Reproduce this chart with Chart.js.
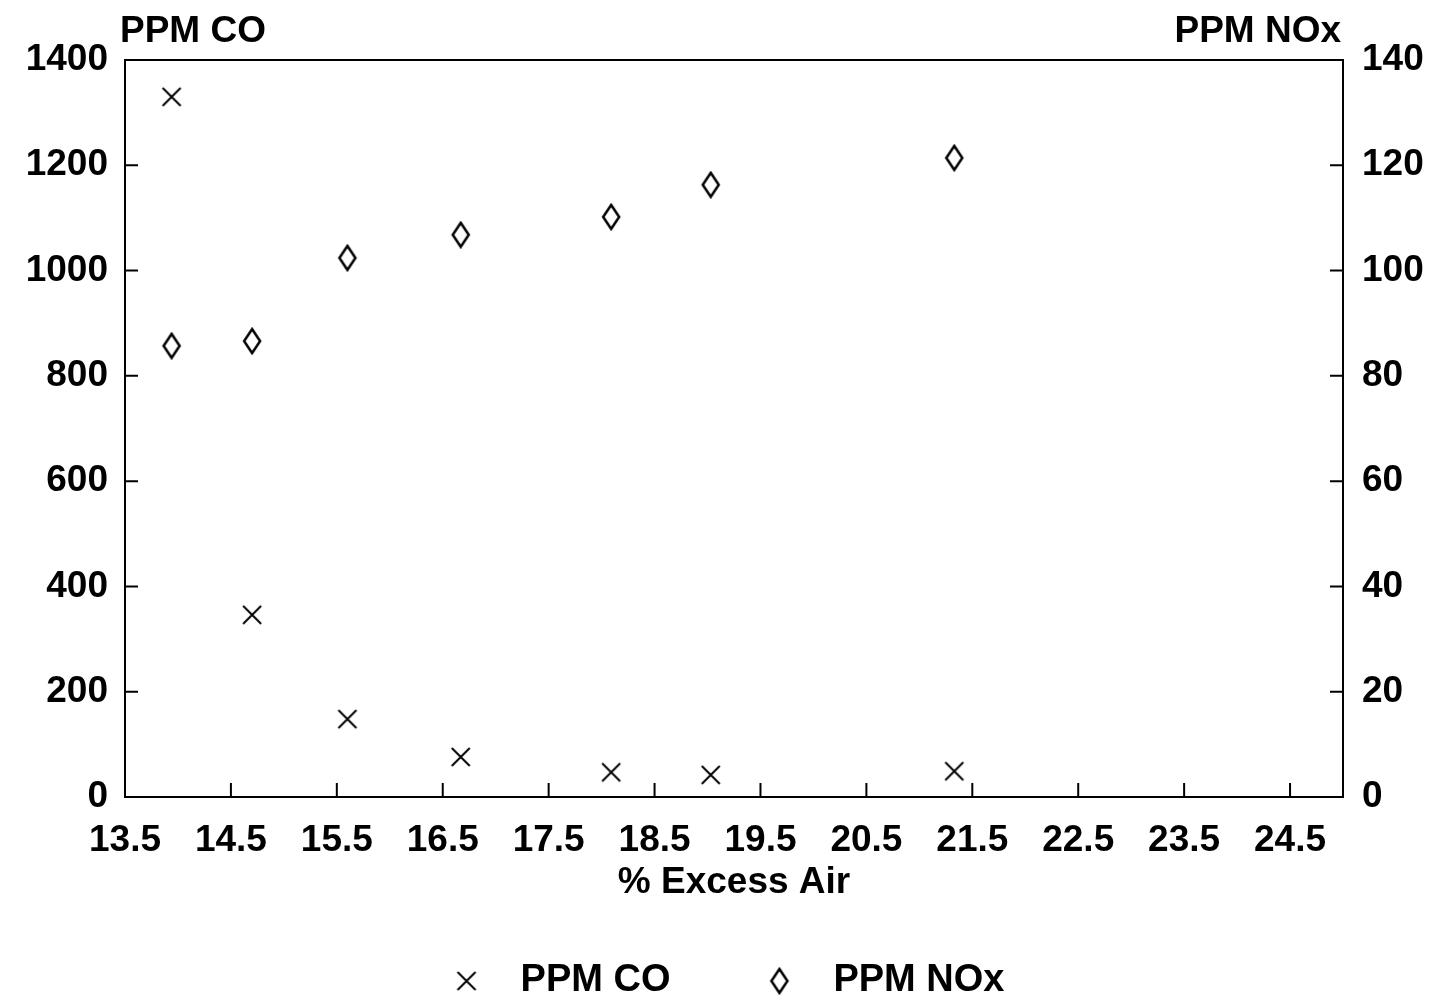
<!DOCTYPE html>
<html>
<head>
<meta charset="utf-8">
<script src="https://cdn.jsdelivr.net/npm/chart.js@4.4.1/dist/chart.umd.min.js"></script>
<style>
  html, body { margin: 0; padding: 0; background: #fff; }
  #wrap { width: 1436px; height: 1000px; }
</style>
</head>
<body>
<div id="wrap"><canvas id="chart" width="1436" height="1000"></canvas></div>
<script>
// Data
const excessAir = [13.94, 14.7, 15.6, 16.67, 18.09, 19.03, 21.33];
const ppmCO = [1330, 346, 148, 76, 47, 42, 49];
const ppmNOx = [85.7, 86.6, 102.4, 106.8, 110.2, 116.3, 121.4];

// Tick labels
const xTicks = [13.5, 14.5, 15.5, 16.5, 17.5, 18.5, 19.5, 20.5, 21.5, 22.5, 23.5, 24.5];
const coTicks = [0, 200, 400, 600, 800, 1000, 1200, 1400];
const noxTicks = [0, 20, 40, 60, 80, 100, 120, 140];

const FONT = "'Liberation Sans', Arial, sans-serif";
const tickFont = { family: FONT, size: 37, weight: "bold" };

// marker images (x for CO, tall diamond for NOx)
function makeCross() {
  const c = document.createElement("canvas");
  c.width = 22;
  c.height = 22;
  const g = c.getContext("2d");
  g.strokeStyle = "#000";
  g.lineWidth = 2;
  g.beginPath();
  g.moveTo(2, 2);
  g.lineTo(20, 20);
  g.moveTo(20, 2);
  g.lineTo(2, 20);
  g.stroke();
  return c;
}
function makeDiamond() {
  const c = document.createElement("canvas");
  c.width = 22;
  c.height = 28;
  const g = c.getContext("2d");
  g.strokeStyle = "#000";
  g.lineWidth = 2.5;
  g.beginPath();
  g.moveTo(11, 2);
  g.lineTo(19, 14);
  g.lineTo(11, 26);
  g.lineTo(3, 14);
  g.closePath();
  g.stroke();
  return c;
}
const cross = makeCross();
const diamond = makeDiamond();

// frame, inward tick marks and the two axis captions
const framePlugin = {
  id: "framePlugin",
  afterDraw(chart) {
    const ctx = chart.ctx;
    const a = chart.chartArea;
    const x = chart.scales.x, yCO = chart.scales.yCO, yNOx = chart.scales.yNOx;
    ctx.save();
    ctx.strokeStyle = "#000";
    ctx.lineWidth = 2;
    ctx.strokeRect(a.left, a.top, a.right - a.left, a.bottom - a.top);
    ctx.beginPath();
    xTicks.slice(1).forEach(v => {
      const px = x.getPixelForValue(v);
      ctx.moveTo(px, a.bottom);
      ctx.lineTo(px, a.bottom - 14);
    });
    coTicks.slice(1, -1).forEach(v => {
      const py = yCO.getPixelForValue(v);
      ctx.moveTo(a.left, py);
      ctx.lineTo(a.left + 13, py);
    });
    noxTicks.slice(1, -1).forEach(v => {
      const py = yNOx.getPixelForValue(v);
      ctx.moveTo(a.right, py);
      ctx.lineTo(a.right - 13, py);
    });
    ctx.stroke();

    ctx.fillStyle = "#000";
    ctx.font = "bold 37px " + FONT;
    ctx.textBaseline = "alphabetic";
    ctx.textAlign = "left";
    ctx.fillText("PPM CO", 120, 42);
    ctx.textAlign = "right";
    ctx.fillText("PPM NOx", 1341, 42);
    ctx.restore();
  }
};

new Chart(document.getElementById("chart"), {
  type: "scatter",
  data: {
    datasets: [
      {
        label: "PPM CO",
        data: excessAir.map((v, i) => ({ x: v, y: ppmCO[i] })),
        yAxisID: "yCO",
        pointStyle: cross,
        borderColor: "#000",
        backgroundColor: "#000",
      },
      {
        label: "PPM NOx",
        data: excessAir.map((v, i) => ({ x: v, y: ppmNOx[i] })),
        yAxisID: "yNOx",
        pointStyle: diamond,
        borderColor: "#000",
        backgroundColor: "#000",
      },
    ],
  },
  options: {
    responsive: false,
    animation: false,
    layout: { padding: { top: 60, bottom: -10 } },
    plugins: {
      tooltip: { enabled: false },
      legend: {
        position: "bottom",
        labels: {
          usePointStyle: true,
          pointStyleWidth: 70,
          boxHeight: 14,
          color: "#000",
          font: { family: FONT, size: 38, weight: "bold" },
          padding: 74,
        },
      },
    },
    scales: {
      x: {
        type: "linear",
        min: 13.5,
        max: 25,
        afterBuildTicks: s => { s.ticks = xTicks.map(v => ({ value: v })); },
        afterFit: s => { s.height = 91; },
        grid: { display: false, drawTicks: false },
        border: { display: false },
        ticks: {
          color: "#000",
          font: tickFont,
          padding: 22,
          maxRotation: 0,
          autoSkip: false,
          callback: v => v.toFixed(1),
        },
        title: {
          display: true,
          text: "% Excess Air",
          color: "#000",
          font: tickFont,
          padding: { top: 0, bottom: -17 },
        },
      },
      yCO: {
        position: "left",
        min: 0,
        max: 1400,
        afterBuildTicks: s => { s.ticks = coTicks.map(v => ({ value: v })); },
        afterFit: s => { s.width = 125; },
        grid: { display: false, drawTicks: false },
        border: { display: false },
        ticks: { color: "#000", font: tickFont, padding: 17, callback: v => String(v) },
      },
      yNOx: {
        position: "right",
        min: 0,
        max: 140,
        afterBuildTicks: s => { s.ticks = noxTicks.map(v => ({ value: v })); },
        afterFit: s => { s.width = 93; },
        grid: { display: false, drawTicks: false },
        border: { display: false },
        ticks: { color: "#000", font: tickFont, padding: 19, callback: v => String(v) },
      },
    },
  },
  plugins: [framePlugin],
});
</script>
</body>
</html>
